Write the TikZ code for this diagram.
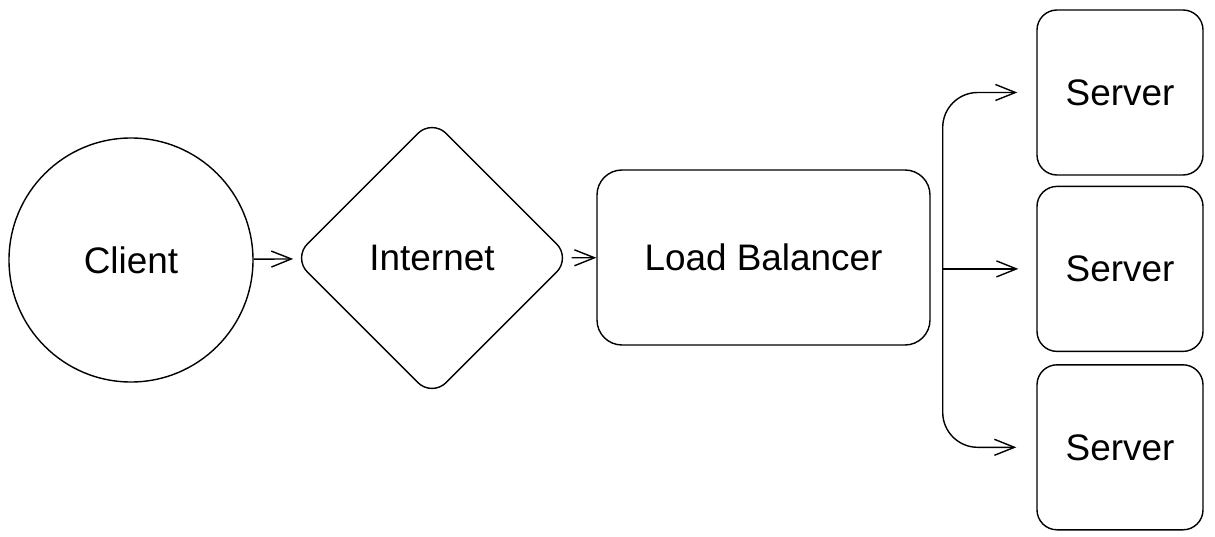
\documentclass[tikz,border=0pt]{standalone}
\usepackage{fontspec}
\setmainfont{Liberation Sans}
\usetikzlibrary{arrows.meta,shapes.geometric,positioning}

\begin{document}
\begin{tikzpicture}[->, >={Straight Barb[length=4mm,width=3.2mm]}, line width=0.8pt,
  every node/.style={font=\fontsize{21}{24}\selectfont},
  box/.style={draw, rounded corners=5mm},
  server/.style={box, rounded corners=4mm, minimum width=3.32cm, minimum height=3.3cm}]
\path[use as bounding box] (0,0) rectangle (24.3,-10.74);
\node[circle, draw, minimum size=4.88cm] (client) at (2.62,-5.2) {Client};
\node[diamond, draw, minimum size=5.56cm, rounded corners=4mm] (inet) at (8.64,-5.16) {Internet};
\node[box, minimum width=6.66cm, minimum height=3.5cm] (lb) at (15.27,-5.15) {Load Balancer};
\node[server] (s1) at (22.4,-1.85) {Server};
\node[server, below=2mm of s1] (s2) {Server};
\node[server, below=2.4mm of s2] (s3) {Server};
\path (lb.east |- s2.west) ++(2.4mm,0) coordinate (split);
\draw (client) -- (inet);
\draw (inet) -- (lb);
\draw[rounded corners=7mm, shorten >=3.8mm] (split) |- (s1.west);
\draw[shorten >=3.6mm] (split) -- (s2.west);
\draw[rounded corners=7mm, shorten >=4mm] (split) |- (s3.west);
\end{tikzpicture}
\end{document}
